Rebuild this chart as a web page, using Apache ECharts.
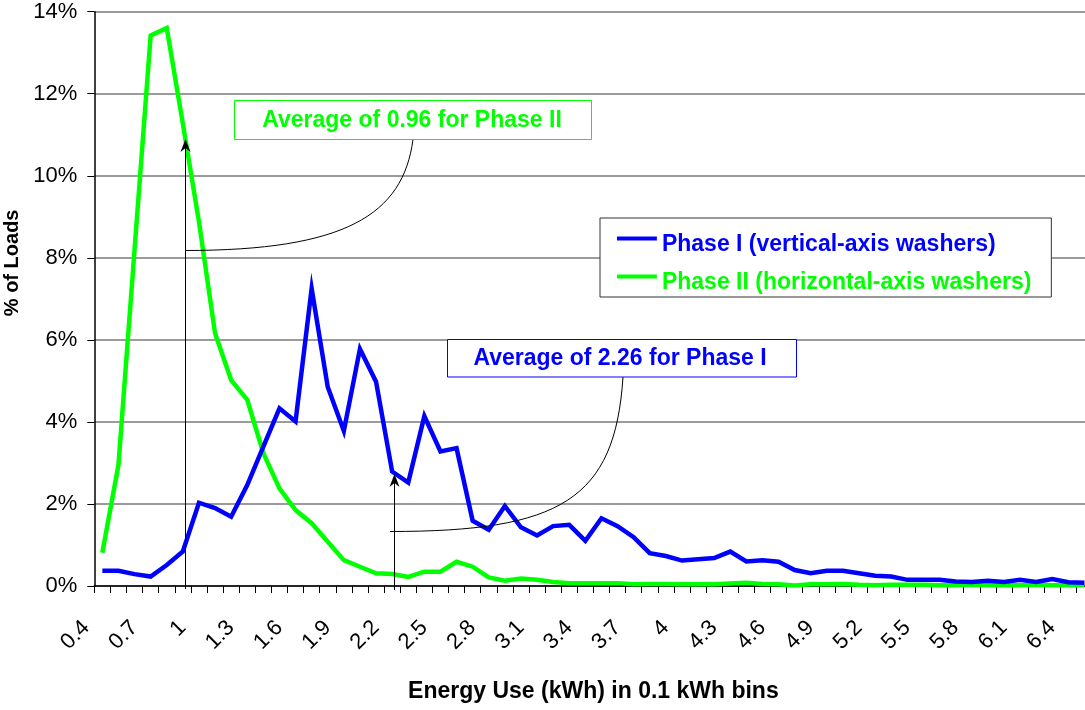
<!DOCTYPE html>
<html>
<head>
<meta charset="utf-8">
<script src="https://cdn.jsdelivr.net/npm/echarts@6/dist/echarts.min.js"></script>
<style>
html,body{margin:0;padding:0;background:#fff;overflow:hidden;}
#chart{width:1100px;height:710px;}
</style>
</head>
<body>
<div id="chart"></div>
<script>
const categories = ['0.4','0.5','0.6','0.7','0.8','0.9','1','1.1','1.2','1.3','1.4','1.5','1.6','1.7','1.8','1.9','2','2.1','2.2','2.3','2.4','2.5','2.6','2.7','2.8','2.9','3','3.1','3.2','3.3','3.4','3.5','3.6','3.7','3.8','3.9','4','4.1','4.2','4.3','4.4','4.5','4.6','4.7','4.8','4.9','5','5.1','5.2','5.3','5.4','5.5','5.6','5.7','5.8','5.9','6','6.1','6.2','6.3','6.4','6.5'];

const phase1 = [0.37,0.37,0.29,0.23,0.51,0.84,2.03,1.90,1.69,2.46,3.40,4.33,4.01,7.25,4.85,3.78,5.78,4.98,2.79,2.52,4.14,3.28,3.36,1.59,1.37,1.95,1.43,1.23,1.46,1.49,1.10,1.65,1.46,1.19,0.80,0.73,0.62,0.65,0.68,0.84,0.60,0.63,0.59,0.39,0.31,0.37,0.37,0.31,0.25,0.23,0.15,0.15,0.15,0.11,0.10,0.13,0.10,0.15,0.10,0.17,0.09,0.08];

const phase2 = [0.81,2.95,8.20,13.42,13.60,11.27,8.88,6.16,5.02,4.54,3.24,2.38,1.85,1.53,1.08,0.63,0.47,0.31,0.29,0.22,0.35,0.35,0.59,0.47,0.21,0.13,0.18,0.15,0.10,0.07,0.07,0.07,0.07,0.04,0.05,0.05,0.04,0.04,0.04,0.06,0.08,0.05,0.04,0.01,0.04,0.04,0.05,0.03,0.02,0.03,0.03,0.03,0.02,0.02,0.03,0.02,0.02,0.02,0.03,0.02,0.02,0.02];

const yTicks = [0,2,4,6,8,10,12,14];
const seriesNames = ['Phase I (vertical-axis washers)','Phase II (horizontal-axis washers)'];
const noteTexts = ['Average of 0.96 for Phase II','Average of 2.26 for Phase I'];

const FONT = '"Liberation Sans", Arial, sans-serif';
const BLUE = '#0000ff';
const GREEN = '#00ff00';
const LEGEND_ICON = 'path://M0,0L40,0L40,4L0,4Z M0,16L0.05,16L0.05,16.05L0,16.05Z';

const chart = echarts.init(document.getElementById('chart'), null, {renderer:'canvas'});

const option = {
  backgroundColor:'#fff',
  animation:false,
  grid:{left:94.3, top:11.7, right:7.5, bottom:124, containLabel:false, outerBoundsMode:'none'},
  legend:{
    orient:'vertical',
    left:600, top:218,
    padding:[15,20,3,17],
    itemGap:15,
    itemWidth:40, itemHeight:16,
    icon:LEGEND_ICON,
    backgroundColor:'#fff',
    borderColor:'#333', borderWidth:1,
    textStyle:{fontFamily:FONT, fontSize:23, fontWeight:'bold'},
    data:[
      {name:seriesNames[0], textStyle:{color:BLUE}},
      {name:seriesNames[1], textStyle:{color:GREEN}}
    ]
  },
  xAxis:{
    type:'category',
    data:categories,
    boundaryGap:true,
    name:'Energy Use (kWh) in 0.1 kWh bins',
    nameLocation:'middle',
    nameGap:94,
    nameTextStyle:{fontFamily:FONT, fontSize:23, fontWeight:'bold', color:'#000'},
    axisLine:{lineStyle:{color:'#000', width:1.5}},
    axisTick:{show:true, interval:0, length:7, lineStyle:{color:'#000', width:1}},
    axisLabel:{interval:2, rotate:45, margin:22, padding:[0,23,0,0], fontFamily:FONT, fontSize:22, color:'#000'},
    splitLine:{show:false}
  },
  yAxis:{
    type:'value',
    min:yTicks[0], max:yTicks[yTicks.length-1], interval:2,
    name:'% of Loads',
    nameLocation:'middle',
    nameRotate:90,
    nameGap:68,
    nameTextStyle:{fontFamily:FONT, fontSize:20, fontWeight:'bold', color:'#000', padding:[0,0,0,72]},
    axisLine:{show:true, lineStyle:{color:'#000', width:1.5}},
    axisTick:{show:true, length:7, lineStyle:{color:'#000', width:1}},
    axisLabel:{margin:17, fontFamily:FONT, fontSize:22, color:'#000', formatter:'{value}%'},
    splitLine:{show:true, lineStyle:{color:'#7a7a7a', width:1.5}}
  },
  series:[
    {name:seriesNames[0], type:'line', data:phase1, showSymbol:false, symbol:'none',
     lineStyle:{color:BLUE, width:4.5, join:'miter'}, itemStyle:{color:BLUE}, z:3},
    {name:seriesNames[1], type:'line', data:phase2, showSymbol:false, symbol:'none',
     lineStyle:{color:GREEN, width:4.5, join:'miter'}, itemStyle:{color:GREEN}, z:2}
  ],
  graphic:[
    {type:'line', z:10, shape:{x1:185.5,y1:589,x2:185.5,y2:145}, style:{stroke:'#000', lineWidth:1}},
    {type:'polygon', z:10, shape:{points:[[185.5,139],[180.5,152],[185.5,148],[190.5,152]]}, style:{fill:'#000'}},
    {type:'bezierCurve', z:10, shape:{x1:185, y1:250.5, cpx1:345, cpy1:250.5, cpx2:403, cpy2:215, x2:413, y2:139.5}, style:{stroke:'#000', lineWidth:1, fill:null}},
    {type:'rect', z:10, shape:{x:234.5,y:100.5,width:357,height:39}, style:{fill:'#fff', stroke:GREEN, lineWidth:1}},
    {type:'text', z:11, x:412, y:121, style:{text:noteTexts[0], fill:GREEN, font:'bold 23px "Liberation Sans", Arial, sans-serif', textAlign:'center', textVerticalAlign:'middle', align:'center', verticalAlign:'middle'}},
    {type:'line', z:10, shape:{x1:394.5,y1:590,x2:394.5,y2:480}, style:{stroke:'#000', lineWidth:1}},
    {type:'polygon', z:10, shape:{points:[[394.5,474],[389.5,487],[394.5,483],[399.5,487]]}, style:{fill:'#000'}},
    {type:'bezierCurve', z:10, shape:{x1:390, y1:531.5, cpx1:560, cpy1:531.5, cpx2:615, cpy2:500, x2:623, y2:377}, style:{stroke:'#000', lineWidth:1, fill:null}},
    {type:'rect', z:10, shape:{x:447.5,y:339.5,width:349,height:37.5}, style:{fill:'#fff', stroke:BLUE, lineWidth:1}},
    {type:'text', z:11, x:620, y:359, style:{text:noteTexts[1], fill:BLUE, font:'bold 23px "Liberation Sans", Arial, sans-serif', textAlign:'center', textVerticalAlign:'middle', align:'center', verticalAlign:'middle'}}
  ]
};
chart.setOption(option);
</script>
</body>
</html>
